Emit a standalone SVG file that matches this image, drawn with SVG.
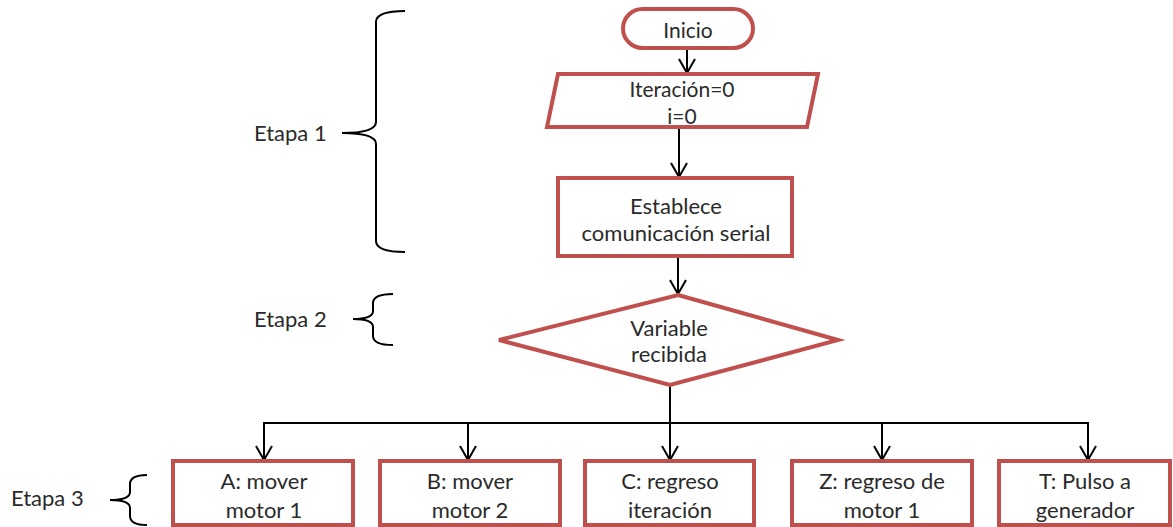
<svg xmlns="http://www.w3.org/2000/svg" width="1173" height="527" viewBox="0 0 1173 527">
  <style>
    .box { fill: #ffffff; stroke: #C0504D; stroke-width: 4; }
    .lbl { font-family: Lato, "Liberation Sans", sans-serif; font-size: 22px; fill: #2a2a2a; text-anchor: middle; dominant-baseline: central; }
    .sm { font-size: 21px; }
    .stage { font-family: Lato, "Liberation Sans", sans-serif; font-size: 22px; fill: #2a2a2a; dominant-baseline: central; }
    .wire { fill: none; stroke: #000; stroke-width: 2; }
    .brace { fill: none; stroke: #000; stroke-width: 2; }
  </style>
  <defs>
    <marker id="arr" markerUnits="userSpaceOnUse" orient="auto" overflow="visible" markerWidth="1" markerHeight="1" refX="0" refY="0">
      <path d="M-14,-8 L0,0 L-14,8" fill="none" stroke="#000" stroke-width="2"/>
    </marker>
  </defs>
  <rect width="1173" height="527" fill="#ffffff"/>

  <!-- stage braces and labels -->
  <g id="etapa1">
    <path class="brace" d="M405,11 Q376,11 376,22 L376,122 Q376,133 342,133 Q376,133 376,144 L376,241 Q376,252 405,252"/>
    <text class="stage" x="254" y="132">Etapa 1</text>
  </g>
  <g id="etapa2">
    <path class="brace" d="M393,294 Q373,294 373,303 L373,311 Q373,319 353,319 Q373,319 373,327 L373,336 Q373,345 393,345"/>
    <text class="stage" x="254" y="318">Etapa 2</text>
  </g>
  <g id="etapa3">
    <path class="brace" d="M147,475 Q130,475 130,484 L130,492 Q130,500 110,500 Q130,500 130,508 L130,516 Q130,525 147,525"/>
    <text class="stage" x="11" y="497">Etapa 3</text>
  </g>

  <!-- connectors -->
  <g id="connectors">
    <line class="wire" x1="687" y1="48" x2="687" y2="73" marker-end="url(#arr)"/>
    <line class="wire" x1="679" y1="127" x2="679" y2="177" marker-end="url(#arr)"/>
    <line class="wire" x1="678" y1="256" x2="678" y2="294" marker-end="url(#arr)"/>
    <line class="wire" x1="670" y1="385" x2="670" y2="423"/>
    <line class="wire" x1="263" y1="423" x2="1089" y2="423"/>
    <line class="wire" x1="264" y1="423" x2="264" y2="460" marker-end="url(#arr)"/>
    <line class="wire" x1="468" y1="423" x2="468" y2="460" marker-end="url(#arr)"/>
    <line class="wire" x1="670" y1="423" x2="670" y2="460" marker-end="url(#arr)"/>
    <line class="wire" x1="882" y1="423" x2="882" y2="460" marker-end="url(#arr)"/>
    <line class="wire" x1="1088" y1="423" x2="1088" y2="460" marker-end="url(#arr)"/>
  </g>

  <!-- flow nodes -->
  <g id="inicio">
    <rect class="box" x="623" y="9" width="130" height="39" rx="19.5"/>
    <text class="lbl sm" x="688" y="29">Inicio</text>
  </g>
  <g id="init-vars">
    <polygon class="box" points="558,74 818,74 807,127 547,127"/>
    <text class="lbl sm" x="682" y="88">Iteración=0</text>
    <text class="lbl sm" x="682" y="115">i=0</text>
  </g>
  <g id="serial">
    <rect class="box" x="558" y="178" width="234" height="78"/>
    <text class="lbl" x="676" y="205">Establece</text>
    <text class="lbl" x="676" y="232">comunicación serial</text>
  </g>
  <g id="decision">
    <polygon class="box" points="678,295 838,340 670,385 499,340"/>
    <text class="lbl" x="669" y="327">Variable</text>
    <text class="lbl" x="669" y="353">recibida</text>
  </g>
  <g id="op-a">
    <rect class="box" x="173" y="461" width="180" height="64"/>
    <text class="lbl" x="264" y="480">A: mover</text>
    <text class="lbl" x="264" y="509">motor 1</text>
  </g>
  <g id="op-b">
    <rect class="box" x="380" y="461" width="180" height="64"/>
    <text class="lbl" x="470" y="480">B: mover</text>
    <text class="lbl" x="470" y="509">motor 2</text>
  </g>
  <g id="op-c">
    <rect class="box" x="585" y="461" width="169" height="64"/>
    <text class="lbl" x="670" y="480">C: regreso</text>
    <text class="lbl" x="670" y="509">iteración</text>
  </g>
  <g id="op-z">
    <rect class="box" x="792" y="461" width="180" height="64"/>
    <text class="lbl" x="882" y="480">Z: regreso de</text>
    <text class="lbl" x="882" y="509">motor 1</text>
  </g>
  <g id="op-t">
    <rect class="box" x="999" y="461" width="171" height="64"/>
    <text class="lbl" x="1085" y="480">T: Pulso a</text>
    <text class="lbl" x="1085" y="509">generador</text>
  </g>
</svg>
